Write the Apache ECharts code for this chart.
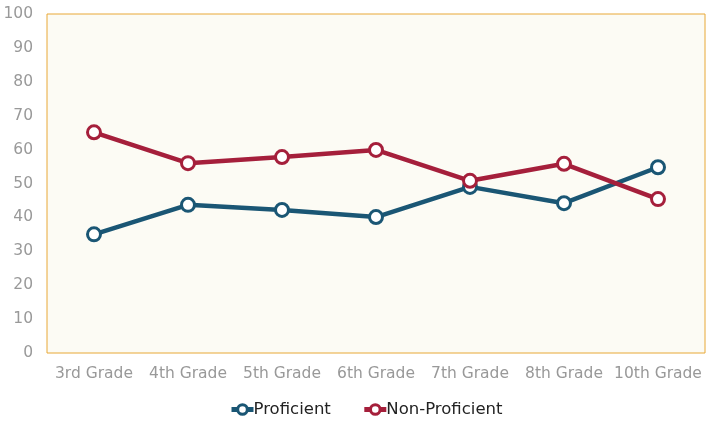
<!DOCTYPE html>
<html><head><meta charset="utf-8">
<script src="https://cdn.jsdelivr.net/npm/echarts@6/dist/echarts.min.js"></script>
<style>html,body{margin:0;padding:0;background:#fff}#c{width:711px;height:422px}</style>
</head><body><div id="c"></div>
<script>
const categories = ['3rd Grade','4th Grade','5th Grade','6th Grade','7th Grade','8th Grade','10th Grade'];
const proficient = [35, 43.7, 42.2, 40.1, 49, 44.2, 54.8];
const nonProficient = [65.1, 56, 57.8, 59.9, 50.8, 55.8, 45.4];
const yTicks = {min: 0, max: 100, interval: 10};

const chart = echarts.init(document.getElementById('c'));
const font = '"DejaVu Sans", sans-serif';
function line(name, data, color) {
  return {
    name, type: 'line', data,
    lineStyle: {width: 4.5, color},
    itemStyle: {color: '#fff', borderColor: color, borderWidth: 3},
    symbol: 'circle', symbolSize: 13,
    emphasis: {disabled: true}
  };
}
chart.setOption({
  animation: false,
  grid: {left: 47, right: 6, top: 14, bottom: 69, show: true, backgroundColor: '#FCFBF4', borderColor: '#E8A836', borderWidth: 1},
  xAxis: {
    type: 'category', data: categories, boundaryGap: true,
    axisLine: {show: false}, axisTick: {show: false},
    axisLabel: {color: '#999', fontSize: 15.5, fontFamily: font, margin: 13, interval: 0}
  },
  yAxis: {
    type: 'value', min: yTicks.min, max: yTicks.max, interval: yTicks.interval,
    splitLine: {show: false}, axisLine: {show: false}, axisTick: {show: false},
    axisLabel: {color: '#999', fontSize: 15.5, fontFamily: font, margin: 14}
  },
  legend: {
    top: 396, left: 224, itemGap: 31, itemWidth: 22, itemHeight: 12,
    lineStyle: {width: 5},
    itemStyle: {borderWidth: 3},
    textStyle: {color: '#222', fontSize: 16.5, fontFamily: font, padding: [0,0,0,-5]},
    data: ['Proficient', 'Non-Proficient']
  },
  series: [
    line('Proficient', proficient, '#1A5674'),
    line('Non-Proficient', nonProficient, '#A51F3B')
  ]
});
</script></body></html>
